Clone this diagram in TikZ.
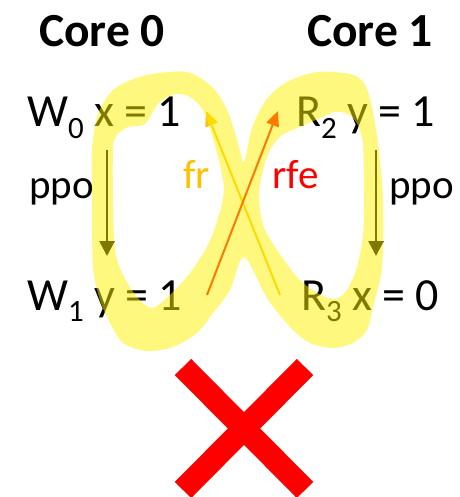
\documentclass[tikz,border=0pt]{standalone}
\usepackage{fontspec}
\setmainfont{Carlito}
\usetikzlibrary{arrows.meta}
\definecolor{frcol}{HTML}{FFC000}
\definecolor{rfecol}{HTML}{FF0000}
\newcommand{\sbs}[1]{\raisebox{-0.25em}{\fontsize{31}{31}\selectfont #1}}
\tikzset{
  ev/.style={anchor=base west,inner sep=0pt,font=\fontsize{46}{46}\selectfont},
  core/.style={anchor=base west,inner sep=0pt,font=\fontsize{47.5}{47.5}\selectfont\bfseries},
  lbl/.style={anchor=base west,inner sep=0pt,font=\fontsize{41}{41}\selectfont},
  ppoarr/.style={line width=2.6pt,black,-{Triangle[length=15pt,width=15pt]}},
  relarr/.style={line width=2pt,-{Triangle[length=15pt,width=13pt]}},
  cross/.style={line width=23pt,red,line cap=butt}
}
\begin{document}
\begin{tikzpicture}[x=1pt,y=-1pt]
\useasboundingbox (0,0) rectangle (459,497);
% titles
\node[core] (c0) at (39,47) {Core 0};
\node[core] (c1) at (307,47) {Core 1};
% events
\node[ev] (w0) at (27,127) {W\sbs{0} x = 1};
\node[ev] (w1) at (27,310) {W\sbs{1} y = 1};
\node[ev] (r2) at (296,127) {R\sbs{2} y = 1};
\node[ev] (r3) at (301,310) {R\sbs{3} x = 0};
% labels
\node[lbl] (p0) at (29,198) {ppo};
\node[lbl] (p1) at (389,198) {ppo};
\node[lbl,text=frcol] (fr) at (183,188) {fr};
\node[lbl,text=rfecol] (rfe) at (272,188) {rfe};
% arrow endpoints
\coordinate (a0s) at (107,150); \coordinate (a0e) at (107,256);
\coordinate (a1s) at (376,150); \coordinate (a1e) at (376,256);
\coordinate (frs) at (280,295); \coordinate (fre) at (206,111);
\coordinate (rfs) at (207,295); \coordinate (rfee) at (278,111);
\draw[ppoarr] (a0s) -- (a0e);
\draw[ppoarr] (a1s) -- (a1e);
\draw[relarr,frcol] (frs) -- (fre);
\draw[relarr,rfecol] (rfs) -- (rfee);
% highlight
\fill[yellow,fill opacity=0.5,even odd rule]
  plot[smooth cycle,tension=0.5] coordinates {(92,200) (92,150) (97,117) (107,97) (120,85) (147,75) (187,72) (213,88) (228,112) (238,143) (244,162) (252,128) (266,100) (287,82) (317,72) (350,74) (364,83) (371,103) (378,143) (383,200) (382,267) (373,307) (367,330) (353,343) (333,348) (310,343) (290,327) (267,298) (244,257) (230,290) (213,313) (197,333) (173,347) (147,351) (123,343) (110,323) (100,300) (93,267)}
  plot[smooth cycle,tension=0.5] coordinates {(113,200) (113,150) (116,136) (128,127) (145,124) (158,104) (175,94) (190,97) (203,110) (212,135) (220,165) (224,190) (219,215) (208,245) (190,273) (170,295) (152,308) (137,297) (123,275) (115,250)}
  plot[smooth cycle,tension=0.5] coordinates {(259,195) (263,170) (270,150) (282,135) (300,127) (320,118) (335,112) (348,114) (358,125) (363,145) (364,200) (363,235) (357,267) (347,290) (335,299) (317,293) (297,277) (277,250) (263,225)};
% red cross
\coordinate (xa) at (183,367); \coordinate (xb) at (305,490);
\coordinate (xc) at (305,367); \coordinate (xd) at (183,490);
\draw[cross] (xa) -- (xb);
\draw[cross] (xc) -- (xd);
\end{tikzpicture}
\end{document}
